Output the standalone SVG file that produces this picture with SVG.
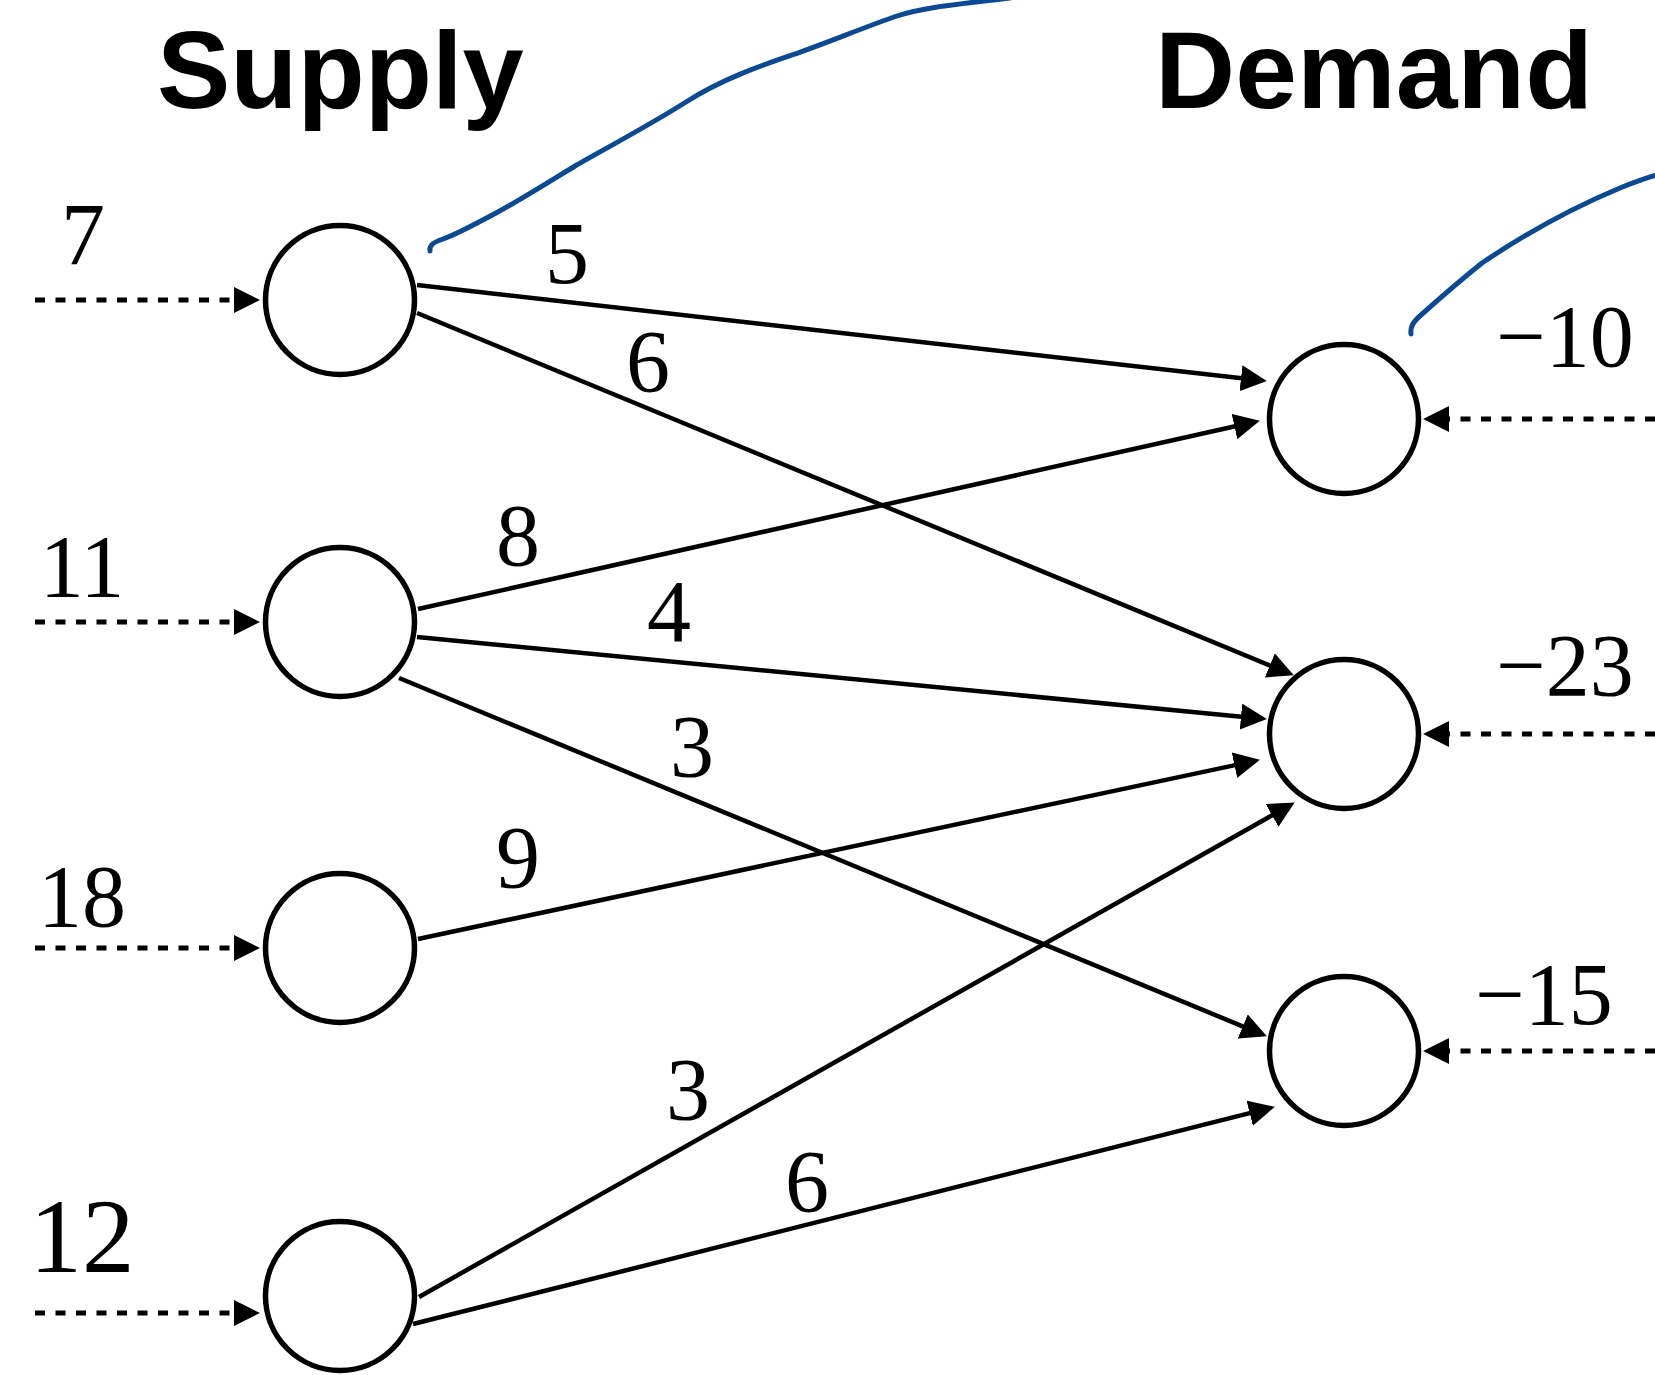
<svg xmlns="http://www.w3.org/2000/svg" width="1655" height="1375" viewBox="0 0 1655 1375">
  <style>
    .title { font-family: "Liberation Sans", Arial, sans-serif; font-weight: bold; font-size: 110px; fill: #000; }
    .num { font-family: "Liberation Serif", "Times New Roman", serif; font-size: 88px; fill: #000; text-anchor: middle; }
    .node { fill: #fff; stroke: #000; stroke-width: 5.5; }
    .edge { stroke: #000; stroke-width: 4.5; fill: none; marker-end: url(#head); }
    .flow { stroke: #000; stroke-width: 5; fill: none; stroke-dasharray: 10 10.5; marker-end: url(#head); }
    .ink { stroke: #0b4a93; stroke-width: 5; fill: none; stroke-linecap: round; stroke-linejoin: round; }
  </style>
  <defs>
    <marker id="head" markerUnits="userSpaceOnUse" markerWidth="26" markerHeight="26" viewBox="0 0 25 25" refX="3" refY="12.5" orient="auto">
      <path d="M0,0 L25,12.5 L0,25 z" fill="#000"/>
    </marker>
  </defs>
  <rect width="1655" height="1375" fill="#fff"/>

  <!-- column headings -->
  <text class="title" x="157" y="108">Supply</text>
  <text class="title" x="1155" y="108" textLength="438" lengthAdjust="spacingAndGlyphs">Demand</text>

  <!-- hand-drawn annotation strokes -->
  <path class="ink" d="M430,251 C429,245 434,242 443,239 C455,235 470,227 496,213 S560,175 575,166 S650,125 686,102 S760,66 792,55 S870,25 897,16 S960,4 1010,-2"/>
  <path class="ink" d="M1411,334 C1410,327 1413,322 1421,315 C1440,298 1462,279 1482,263 C1522,236 1572,208 1620,188 C1635,182 1646,178 1660,174"/>

  <!-- connectors -->
  <g id="connectors">
    <!-- external supply inflows -->
    <line class="flow" x1="35" y1="300" x2="237" y2="300"/>
    <line class="flow" x1="35" y1="622" x2="237" y2="622"/>
    <line class="flow" x1="35" y1="948" x2="237" y2="948"/>
    <line class="flow" x1="35" y1="1313" x2="237" y2="1313"/>
    <!-- external demand flows -->
    <line class="flow" x1="1655" y1="419" x2="1446" y2="419"/>
    <line class="flow" x1="1655" y1="734" x2="1446" y2="734"/>
    <line class="flow" x1="1655" y1="1051" x2="1446" y2="1051"/>
    <!-- transport arcs -->
    <line class="edge" x1="417" y1="285" x2="1244.1" y2="378.5"/>
    <line class="edge" x1="417" y1="313" x2="1272.7" y2="666.6"/>
    <line class="edge" x1="418" y1="609" x2="1237.5" y2="425.8"/>
    <line class="edge" x1="417" y1="637" x2="1244.1" y2="716.9"/>
    <line class="edge" x1="399" y1="678" x2="1245.7" y2="1027.6"/>
    <line class="edge" x1="418" y1="939" x2="1237.5" y2="764.6"/>
    <line class="edge" x1="419" y1="1297" x2="1274.8" y2="813.8"/>
    <line class="edge" x1="413" y1="1324" x2="1252.7" y2="1112.4"/>
  </g>

  <!-- arc costs -->
  <g id="costs">
    <text class="num" x="567" y="283">5</text>
    <text class="num" x="648" y="391">6</text>
    <text class="num" x="518" y="565">8</text>
    <text class="num" x="669" y="641">4</text>
    <text class="num" x="692" y="776">3</text>
    <text class="num" x="518" y="887">9</text>
    <text class="num" x="688" y="1119">3</text>
    <text class="num" x="807" y="1211">6</text>
  </g>

  <!-- supply nodes -->
  <g id="s1"><circle class="node" cx="340" cy="300" r="74.5"/><text class="num" x="83" y="264">7</text></g>
  <g id="s2"><circle class="node" cx="340" cy="622" r="74.5"/><text class="num" x="82" y="596">11</text></g>
  <g id="s3"><circle class="node" cx="340" cy="948" r="74.5"/><text class="num" x="82" y="926">18</text></g>
  <g id="s4"><circle class="node" cx="340" cy="1296" r="74.5"/><text class="num" x="82" y="1272" style="font-size:105px">12</text></g>

  <!-- demand nodes -->
  <g id="d1"><circle class="node" cx="1344" cy="419" r="74.5"/><text class="num" x="1565" y="366">−10</text></g>
  <g id="d2"><circle class="node" cx="1344" cy="734" r="74.5"/><text class="num" x="1565" y="695">−23</text></g>
  <g id="d3"><circle class="node" cx="1344" cy="1051" r="74.5"/><text class="num" x="1544" y="1024">−15</text></g>
</svg>
